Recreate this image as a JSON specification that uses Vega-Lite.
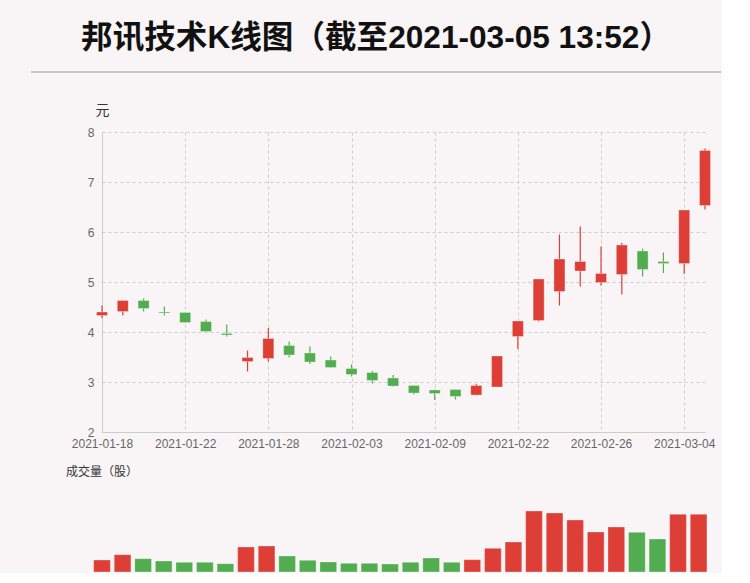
{
  "$schema": "https://vega.github.io/schema/vega-lite/v6.json",
  "background": "#f9f5f6",
  "padding": {"left": 30, "top": 23, "right": 0, "bottom": 0},
  "config": {
    "view": {"stroke": null},
    "font": "Liberation Sans, Noto Sans CJK SC"
  },
  "spacing": 17,
  "resolve": {"scale": {"x": "independent", "y": "independent", "color": "shared"}},
  "datasets": {
    "k": [
      {"date": "2021-01-18", "open": 4.33, "close": 4.40, "high": 4.53, "low": 4.28, "trend": "up", "volume": 6000000},
      {"date": "2021-01-19", "open": 4.41, "close": 4.63, "high": 4.63, "low": 4.33, "trend": "up", "volume": 8650000},
      {"date": "2021-01-20", "open": 4.63, "close": 4.47, "high": 4.67, "low": 4.41, "trend": "down", "volume": 6650000},
      {"date": "2021-01-21", "open": 4.40, "close": 4.38, "high": 4.51, "low": 4.33, "trend": "down", "volume": 5500000},
      {"date": "2021-01-22", "open": 4.39, "close": 4.19, "high": 4.39, "low": 4.19, "trend": "down", "volume": 4850000},
      {"date": "2021-01-25", "open": 4.21, "close": 4.01, "high": 4.25, "low": 4.01, "trend": "down", "volume": 4850000},
      {"date": "2021-01-26", "open": 3.97, "close": 3.94, "high": 4.15, "low": 3.91, "trend": "down", "volume": 4150000},
      {"date": "2021-01-27", "open": 3.41, "close": 3.49, "high": 3.63, "low": 3.21, "trend": "up", "volume": 12500000},
      {"date": "2021-01-28", "open": 3.47, "close": 3.87, "high": 4.08, "low": 3.41, "trend": "up", "volume": 13000000},
      {"date": "2021-01-29", "open": 3.73, "close": 3.54, "high": 3.81, "low": 3.49, "trend": "down", "volume": 8000000},
      {"date": "2021-02-01", "open": 3.58, "close": 3.40, "high": 3.71, "low": 3.36, "trend": "down", "volume": 5850000},
      {"date": "2021-02-02", "open": 3.44, "close": 3.29, "high": 3.51, "low": 3.29, "trend": "down", "volume": 5000000},
      {"date": "2021-02-03", "open": 3.27, "close": 3.15, "high": 3.35, "low": 3.11, "trend": "down", "volume": 4350000},
      {"date": "2021-02-04", "open": 3.19, "close": 3.03, "high": 3.22, "low": 2.97, "trend": "down", "volume": 4350000},
      {"date": "2021-02-05", "open": 3.08, "close": 2.92, "high": 3.14, "low": 2.91, "trend": "down", "volume": 4000000},
      {"date": "2021-02-08", "open": 2.93, "close": 2.78, "high": 2.93, "low": 2.75, "trend": "down", "volume": 4850000},
      {"date": "2021-02-09", "open": 2.84, "close": 2.77, "high": 2.85, "low": 2.64, "trend": "down", "volume": 7000000},
      {"date": "2021-02-10", "open": 2.85, "close": 2.71, "high": 2.85, "low": 2.65, "trend": "down", "volume": 4850000},
      {"date": "2021-02-18", "open": 2.74, "close": 2.93, "high": 2.96, "low": 2.73, "trend": "up", "volume": 6150000},
      {"date": "2021-02-19", "open": 2.90, "close": 3.52, "high": 3.52, "low": 2.90, "trend": "up", "volume": 11850000},
      {"date": "2021-02-22", "open": 3.91, "close": 4.22, "high": 4.22, "low": 3.66, "trend": "up", "volume": 15000000},
      {"date": "2021-02-23", "open": 4.23, "close": 5.06, "high": 5.06, "low": 4.21, "trend": "up", "volume": 30500000},
      {"date": "2021-02-24", "open": 4.81, "close": 5.46, "high": 5.95, "low": 4.53, "trend": "up", "volume": 29500000},
      {"date": "2021-02-25", "open": 5.22, "close": 5.41, "high": 6.11, "low": 4.91, "trend": "up", "volume": 26000000},
      {"date": "2021-02-26", "open": 4.99, "close": 5.17, "high": 5.71, "low": 4.93, "trend": "up", "volume": 20000000},
      {"date": "2021-03-01", "open": 5.15, "close": 5.74, "high": 5.78, "low": 4.75, "trend": "up", "volume": 22500000},
      {"date": "2021-03-02", "open": 5.62, "close": 5.25, "high": 5.67, "low": 5.11, "trend": "down", "volume": 19850000},
      {"date": "2021-03-03", "open": 5.41, "close": 5.37, "high": 5.59, "low": 5.18, "trend": "down", "volume": 16500000},
      {"date": "2021-03-04", "open": 5.37, "close": 6.44, "high": 6.44, "low": 5.16, "trend": "up", "volume": 28850000},
      {"date": "2021-03-05", "open": 6.53, "close": 7.63, "high": 7.67, "low": 6.45, "trend": "up", "volume": 28850000}
    ]
  },
  "vconcat": [
    {
      "width": 619,
      "height": 14,
      "title": {
        "text": "邦讯技术K线图（截至2021-03-05 13:52）",
        "fontSize": 31.6,
        "fontWeight": "bold",
        "color": "#111111",
        "anchor": "middle",
        "baseline": "alphabetic",
        "offset": -9,
        "dx": -35.5
      },
      "data": {"values": [{"line": "title rule"}]},
      "mark": {"type": "rule", "color": "#c8c8c8", "strokeWidth": 2},
      "encoding": {
        "x": {"datum": -0.1147, "type": "quantitative", "scale": {"domain": [0, 1]}, "axis": null},
        "x2": {"datum": 1},
        "y": {"datum": 1, "type": "quantitative", "scale": {"domain": [0, 1]}, "axis": null}
      }
    },
    {
      "width": 603,
      "height": 300,
      "data": {"name": "k"},
      "encoding": {
        "x": {
          "field": "date",
          "type": "ordinal",
          "scale": {"type": "point", "padding": 0},
          "axis": {
            "values": ["2021-01-18", "2021-01-22", "2021-01-28", "2021-02-03", "2021-02-09", "2021-02-22", "2021-02-26", "2021-03-04"],
            "labelAngle": 0,
            "title": null,
            "ticks": false,
            "grid": true,
            "gridDash": [3, 3],
            "gridColor": "#cccccc",
            "domainColor": "#cccccc",
            "labelColor": "#666666",
            "labelFontSize": 12,
            "labelPadding": 6
          }
        },
        "color": {
          "field": "trend",
          "type": "nominal",
          "scale": {"domain": ["up", "down"], "range": ["#dd3e36", "#52ac50"]},
          "legend": null
        }
      },
      "layer": [
        {
          "mark": {"type": "rule", "strokeWidth": 1.2},
          "encoding": {
            "y": {
              "field": "low",
              "type": "quantitative",
              "title": "元",
              "scale": {"domain": [2, 8], "nice": false, "zero": false},
              "axis": {
                "values": [2, 3, 4, 5, 6, 7, 8],
                "title": "元",
                "titleAngle": 0,
                "titleX": 0,
                "titleY": -22,
                "titleAlign": "center",
                "titleBaseline": "middle",
                "titleFontSize": 14,
                "titleFontWeight": "normal",
                "titleColor": "#333333",
                "grid": true,
                "gridDash": [3, 3],
                "gridColor": "#cccccc",
                "ticks": false,
                "domainColor": "#cccccc",
                "labelColor": "#666666",
                "labelFontSize": 12,
                "labelPadding": 8,
                "minExtent": 71
              }
            },
            "y2": {"field": "high"}
          }
        },
        {
          "mark": {"type": "bar", "width": 11, "stroke": "#ffffff", "strokeOpacity": 0.3, "strokeWidth": 1},
          "encoding": {
            "y": {"field": "open", "type": "quantitative", "title": "元"},
            "y2": {"field": "close"}
          }
        }
      ]
    },
    {
      "width": 596.6,
      "height": 72,
      "data": {"name": "k"},
      "title": {
        "text": "成交量（股）",
        "anchor": "start",
        "dx": 35,
        "fontSize": 12,
        "fontWeight": "normal",
        "color": "#333333",
        "baseline": "alphabetic",
        "offset": 12
      },
      "mark": {"type": "bar", "width": 16.7, "stroke": "#ffffff", "strokeOpacity": 0.3, "strokeWidth": 1},
      "encoding": {
        "x": {"field": "date", "type": "ordinal", "scale": {"type": "point", "padding": 0}, "axis": null},
        "y": {
          "field": "volume",
          "type": "quantitative",
          "scale": {"domain": [0, 36000000]},
          "axis": {"labels": false, "ticks": false, "domain": false, "grid": false, "title": null, "minExtent": 71}
        },
        "color": {
          "field": "trend",
          "type": "nominal",
          "scale": {"domain": ["up", "down"], "range": ["#dd3e36", "#52ac50"]},
          "legend": null
        }
      }
    }
  ]
}
